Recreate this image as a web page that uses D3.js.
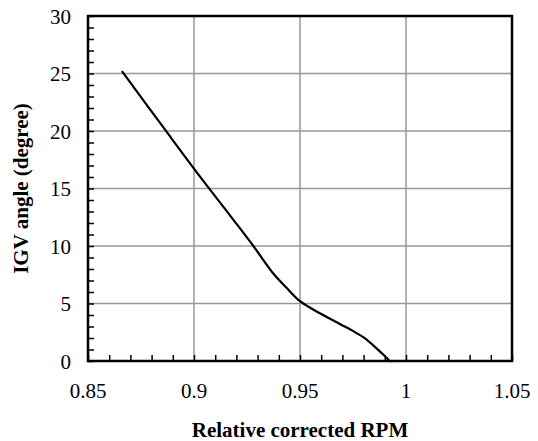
<!DOCTYPE html>
<html><head><meta charset="utf-8">
<script src="https://cdn.jsdelivr.net/npm/d3@7"></script>
<style>body{margin:0;background:#fff}svg{display:block}text{font-family:"Liberation Serif","Times New Roman",Times,serif}</style>
</head><body>
<script>
const rpm = [0.866, 0.886, 0.9005, 0.9185, 0.928, 0.937, 0.944, 0.950, 0.956, 0.969, 0.9745, 0.980, 0.986, 0.991, 0.9925, 0.994];
const igv = [25.2, 20.2, 16.6, 12.3, 10.0, 7.7, 6.3, 5.2, 4.5, 3.2, 2.66, 2.05, 1.12, 0.25, 0, 0];
const xTicks = [0.85, 0.9, 0.95, 1, 1.05];
const yTicks = [0, 5, 10, 15, 20, 25, 30];
const xTitle = "Relative corrected RPM";
const yTitle = "IGV angle (degree)";

const W = 538, H = 441;
const m = {l: 88, r: 26, t: 16, b: 80};
const svg = d3.select("body").append("svg").attr("width", W).attr("height", H);
const x = d3.scaleLinear().domain([0.85, 1.05]).range([m.l, W - m.r]);
const y = d3.scaleLinear().domain([0, 30]).range([H - m.b, m.t]);

// grid
svg.append("g").selectAll("line").data(xTicks.slice(1, -1)).join("line")
  .attr("x1", d => x(d)).attr("x2", d => x(d)).attr("y1", y(0)).attr("y2", y(30))
  .attr("stroke", "#999").attr("stroke-width", 1.5);
svg.append("g").selectAll("line").data(yTicks.slice(1, -1)).join("line")
  .attr("y1", d => y(d)).attr("y2", d => y(d)).attr("x1", x(0.85)).attr("x2", x(1.05))
  .attr("stroke", "#999").attr("stroke-width", 1.5);

// minor ticks
const xMinor = d3.range(0, 21).map(i => 0.85 + i * 0.01);
const yMinor = d3.range(0, 31);
const xAx = d3.axisBottom(x).tickValues(xMinor).tickSize(-6).tickFormat("");
const yAx = d3.axisLeft(y).tickValues(yMinor).tickSize(-6).tickFormat("");
const gx = svg.append("g").attr("transform", `translate(0,${y(0)})`).call(xAx);
const gy = svg.append("g").attr("transform", `translate(${x(0.85)},0)`).call(yAx);
[gx, gy].forEach(g => {
  g.select(".domain").remove();
  g.selectAll("line").attr("stroke", "#000").attr("stroke-width", 1.5);
});

// frame
svg.append("rect").attr("x", x(0.85)).attr("y", y(30))
  .attr("width", x(1.05) - x(0.85)).attr("height", y(0) - y(30))
  .attr("fill", "none").attr("stroke", "#000").attr("stroke-width", 2.5);

// tick labels
svg.append("g").selectAll("text").data(xTicks).join("text")
  .attr("x", d => x(d)).attr("y", y(0) + 37).attr("text-anchor", "middle")
  .attr("font-size", 21).text(d => d);
svg.append("g").selectAll("text").data(yTicks).join("text")
  .attr("x", x(0.85) - 17).attr("y", d => y(d) + 7.5).attr("text-anchor", "end")
  .attr("font-size", 21).text(d => d);

// line
const pts = rpm.map((r, i) => [r, igv[i]]);
svg.append("path").datum(pts)
  .attr("d", d3.line().x(d => x(d[0])).y(d => y(d[1])).curve(d3.curveCatmullRom.alpha(0.5)))
  .attr("fill", "none").attr("stroke", "#000").attr("stroke-width", 2.2);

// titles
svg.append("text").attr("x", (x(0.85) + x(1.05)) / 2).attr("y", 437)
  .attr("text-anchor", "middle").attr("font-weight", "bold")
  .attr("font-size", 21).text(xTitle);
svg.append("text").attr("transform", `translate(28,${(y(0) + y(30)) / 2}) rotate(-90)`)
  .attr("text-anchor", "middle").attr("font-weight", "bold")
  .attr("font-size", 21).text(yTitle);
</script>
</body></html>
